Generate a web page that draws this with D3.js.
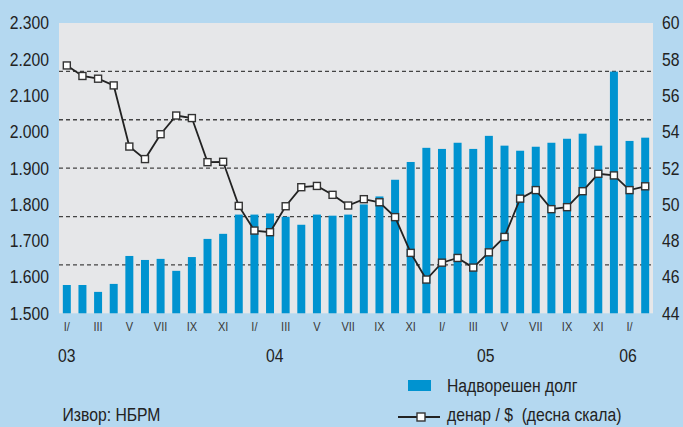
<!DOCTYPE html>
<html><head><meta charset="utf-8">
<script src="https://cdn.jsdelivr.net/npm/d3@7"></script>
<style>
html,body{margin:0;padding:0;background:#b4d8f0;}
svg{display:block;font-family:"Liberation Sans",Arial,sans-serif;}
</style></head><body>
<svg id="c" width="683" height="427"></svg>
<script>
const months = ["I/","II","III","IV","V","VI","VII","VIII","IX","X","XI","XII",
  "I/","II","III","IV","V","VI","VII","VIII","IX","X","XI","XII",
  "I/","II","III","IV","V","VI","VII","VIII","IX","X","XI","XII",
  "I/","II"];
const debt = [1578,1578,1559,1581,1658,1647,1650,1617,1655,1705,1719,1772,
  1772,1775,1766,1744,1772,1769,1772,1800,1822,1868,1917,1956,
  1953,1970,1953,1989,1962,1948,1959,1970,1981,1995,1962,2166,
  1975,1984];
const rate = [57.66,57.08,56.93,56.56,53.19,52.5,53.87,54.9,54.76,52.33,52.35,49.92,
  48.56,48.47,49.9,50.95,51.02,50.53,49.94,50.29,50.12,49.3,47.33,45.86,
  46.79,47.05,46.52,47.36,48.21,50.32,50.79,49.74,49.85,50.73,51.69,51.6,
  50.79,51.0];
const leftTicks = [1500,1600,1700,1800,1900,2000,2100,2200,2300];
const rightTicks = [44,46,48,50,52,54,56,58,60];
const years = ["03","04","05","06"];
const yearAt = [0,13.3,26.8,35.9]; // month index where each year label sits
const labelEvery = 2;

const SX = 0.85; // narrow-font emulation
function narrow(sel){
  sel.each(function(){
    const t = d3.select(this);
    const xv = +t.attr("x") || 0;
    t.attr("x", xv/SX).attr("transform", `scale(${SX},1)`);
  });
}

const svg = d3.select("#c");
const L=59, R=653, T=23, B=313.3;
const x = d3.scaleBand().domain(d3.range(months.length)).range([L,R]).paddingInner(0.49).paddingOuter(0.245);
const step = (R-L)/months.length;
const xc = i => L + step*(i+0.5);
const yL = d3.scaleLinear().domain([1500,2300]).range([B,T]);
const yR = d3.scaleLinear().domain([44,60]).range([B,T]);

svg.append("rect").attr("x",L).attr("y",T).attr("width",R-L).attr("height",B-T).attr("fill","#e6e7e9");

// dashed grid (6 equal parts)
const grid = d3.range(1,6).map(k=>1500+800*k/6);
svg.append("g").selectAll("line").data(grid).join("line")
  .attr("x1",L).attr("x2",R).attr("y1",d=>yL(d)).attr("y2",d=>yL(d))
  .attr("stroke","#444").attr("stroke-width",1.3).attr("stroke-dasharray","4,3");

// bars
svg.append("g").selectAll("rect").data(debt).join("rect")
  .attr("x",(d,i)=>x(i)).attr("width",x.bandwidth())
  .attr("y",d=>yL(d)).attr("height",d=>B-yL(d)).attr("fill","#0093d0");

// line
const line = d3.line().x((d,i)=>xc(i)).y(d=>yR(d));
svg.append("path").datum(rate).attr("d",line).attr("fill","none").attr("stroke","#222").attr("stroke-width",1.8);
svg.append("g").selectAll("rect").data(rate).join("rect")
  .attr("x",(d,i)=>xc(i)-3.5).attr("y",d=>yR(d)-3.5).attr("width",7).attr("height",7)
  .attr("fill","#fff").attr("stroke","#333").attr("stroke-width",1.4);

// axes
const axL = d3.axisLeft(yL).tickValues(leftTicks).tickSize(0).tickPadding(10)
  .tickFormat(d=>d3.format(",")(d).replace(",","."));
const gL = svg.append("g").attr("transform",`translate(${L},0)`).call(axL);
gL.select(".domain").remove();
gL.selectAll("text").attr("font-size",18.5).attr("fill","#222").attr("font-family",null).call(narrow);

const axR = d3.axisRight(yR).tickValues(rightTicks).tickSize(0).tickPadding(9);
const gR = svg.append("g").attr("transform",`translate(${R},0)`).call(axR);
gR.select(".domain").remove();
gR.selectAll("text").attr("font-size",18.5).attr("fill","#222").attr("font-family",null).call(narrow);

const axB = d3.axisBottom(x).tickValues(d3.range(0,months.length,labelEvery)).tickSize(0).tickPadding(8.5)
  .tickFormat(i=>months[i]);
const gB = svg.append("g").attr("transform",`translate(0,${B})`).call(axB);
gB.select(".domain").remove();
gB.selectAll("text").attr("font-size",13).attr("fill","#3a3a3a").attr("font-family",null).call(narrow);

svg.append("g").selectAll("text").data(years).join("text")
  .attr("x",(d,i)=>xc(yearAt[i])).attr("y",362).attr("text-anchor","middle")
  .attr("font-size",18.5).attr("fill","#222").text(d=>d).call(narrow);

// legend
svg.append("rect").attr("x",408).attr("y",380).attr("width",23).attr("height",11).attr("fill","#0093d0");
svg.append("text").attr("x",447).attr("y",392).attr("font-size",18.5).attr("fill","#222").text("Надворешен долг").call(narrow);
svg.append("line").attr("x1",398).attr("x2",440).attr("y1",417).attr("y2",417).attr("stroke","#222").attr("stroke-width",1.8);
svg.append("rect").attr("x",417).attr("y",413).attr("width",8).attr("height",8).attr("fill","#fff").attr("stroke","#333").attr("stroke-width",1.4);
svg.append("text").attr("x",447).attr("y",421.5).attr("font-size",18.5).attr("fill","#222").style("white-space","pre").text("денар / $  (десна скала)").call(narrow);
svg.append("text").attr("x",62.5).attr("y",421.5).attr("font-size",18.5).attr("fill","#222").text("Извор: НБРМ").call(narrow);
</script></body></html>
